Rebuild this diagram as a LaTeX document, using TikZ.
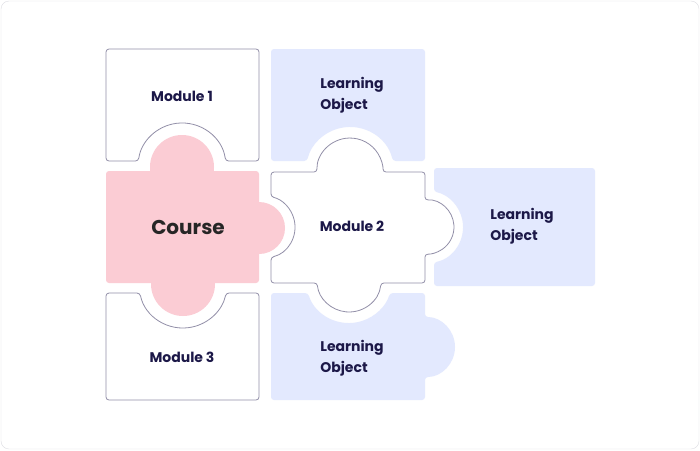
\documentclass[tikz,border=0pt]{standalone}
\usepackage{fontspec}
\setmainfont{Poppins}
\usepackage{xcolor}
\usepackage{tikz}
\usetikzlibrary{positioning}
\definecolor{edgegrey}{HTML}{928FA8}
\definecolor{framegrey}{HTML}{DCDCE2}
\definecolor{coursepink}{HTML}{FBCCD4}
\definecolor{lobblue}{HTML}{E3E9FE}
\definecolor{labelnavy}{HTML}{1C1848}
\tikzset{
  piece/.style={draw=edgegrey, line width=0.8pt, fill=white, rounded corners=3pt},
  lopiece/.style={fill=lobblue, rounded corners=3pt},
  label/.style={font=\bfseries\fontsize{14}{21}\selectfont, text=labelnavy, align=left},
}

\begin{document}
\begin{tikzpicture}[x=1pt, y=-1pt]
  \useasboundingbox (0,0) rectangle (700,450);
  \draw[framegrey, rounded corners=8pt, fill=white] (1,1) rectangle (699,449);
  \fill[lopiece] (271,49) -- (425,49) -- (425,161) -- (392.8,161)
    arc[start angle=-13.1, end angle=-166.9, radius=44] -- (271,161) -- cycle;
  \fill[lopiece] (434,168) -- (595,168) -- (595,286) -- (434,286) -- (434,262.3)
    arc[start angle=78.8, end angle=-78.8, radius=36] -- cycle;
  \fill[lopiece] (271,293) -- (308,293)
    arc[start angle=162.4, end angle=17.6, radius=43] -- (425,293) -- (425,317)
    arc[start angle=-90, end angle=90, radius=30] -- (425,400) -- (271,400) -- cycle;
  \draw[piece] (106,49) -- (259,49) -- (259,161) -- (225.6,161)
    arc[start angle=-7.8, end angle=-172.2, radius=44] -- (106,161) -- cycle;
  \draw[piece] (106,293) -- (139.9,293)
    arc[start angle=168.2, end angle=11.8, radius=44] -- (259,293) -- (259,400) -- (106,400) -- cycle;
  \draw[piece] (271,172) -- (317,172)
    arc[start angle=178.3, end angle=361.7, radius=33] -- (425,172) -- (425,200.1)
    arc[start angle=-94.2, end angle=94.2, radius=27] -- (425,283) -- (380.9,283)
    arc[start angle=5.4, end angle=174.6, radius=32] -- (271,283) -- (271,257.2)
    arc[start angle=77, end angle=-77, radius=31] -- cycle;
  \fill[coursepink, rounded corners=3pt] (106,171) rectangle (259,283);
  \fill[coursepink] (182,167) circle[radius=32];
  \fill[coursepink] (183,284) circle[radius=32];
  \fill[coursepink] (259,228) circle[radius=26];
  \node[label] (m1) at (182,96) {Module 1};
  \node[label] (m2) at (352,226) {Module 2};
  \node[label] (m3) at (182,357) {Module 3};
  \node[font=\bfseries\fontsize{20}{24}\selectfont, text=black!85] (course) at (188,227) {Course};
  \node[label] (lo1) at (352,95) {Learning\\Object};
  \node[label] (lo2) at (522,226) {Learning\\Object};
  \node[label] (lo3) at (352,358) {Learning\\Object};
\end{tikzpicture}
\end{document}
